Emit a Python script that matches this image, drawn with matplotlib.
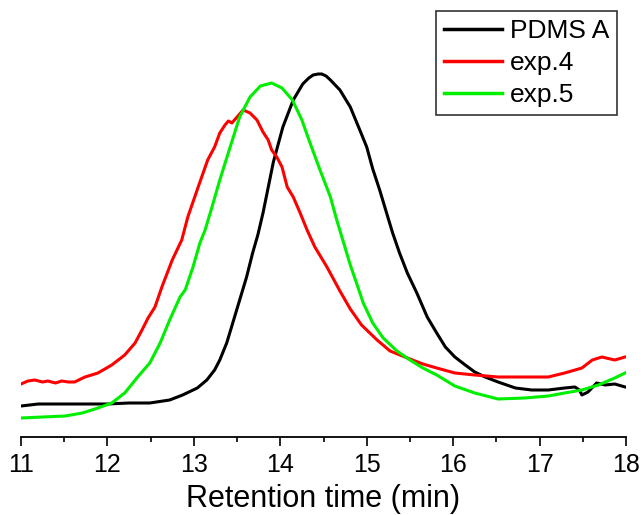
import matplotlib
matplotlib.use("Agg")
import matplotlib.pyplot as plt
from matplotlib.ticker import MultipleLocator

plt.rcParams['font.family'] = ['Liberation Sans', 'DejaVu Sans']

# ---- data (retention time in min, detector signal in arbitrary units) ----
t_pdms = [11.00, 11.20, 11.50, 11.80, 12.00, 12.25, 12.49, 12.72, 12.87, 13.04, 13.15, 13.24,
          13.30, 13.38, 13.45, 13.53, 13.61, 13.68, 13.74, 13.80, 13.92, 14.03, 14.15,
          14.26, 14.33, 14.38, 14.44, 14.48, 14.53, 14.58, 14.69, 14.81, 14.92, 15.00, 15.07, 15.15,
          15.23, 15.30, 15.38, 15.47, 15.58, 15.70, 15.81, 15.91, 16.02, 16.14, 16.25,
          16.37, 16.52, 16.72, 16.91, 17.10, 17.29, 17.41, 17.46, 17.49, 17.56, 17.66,
          17.76, 17.87, 17.99]
y_pdms = [31, 33, 33, 33, 33, 34, 34, 37, 42, 49, 57, 67,
          77, 94, 114, 137, 160, 184, 202, 224, 275, 310, 337,
          353, 359, 362, 363, 363, 361, 357, 347, 330, 307, 290, 268, 247,
          224, 204, 184, 164, 144, 120, 104, 90, 80, 72, 65,
          60, 55, 49, 47, 47, 49, 50, 47, 42, 45, 54,
          52, 53, 50]

t_exp4 = [11.00, 11.08, 11.16, 11.25, 11.31, 11.40, 11.47, 11.55, 11.62, 11.74, 11.89, 12.05,
          12.20, 12.32, 12.40, 12.47, 12.55, 12.63, 12.75, 12.86, 12.93, 13.05, 13.16,
          13.24, 13.30, 13.36, 13.40, 13.44, 13.50, 13.57, 13.65, 13.73, 13.80, 13.86,
          13.90, 13.96, 14.02, 14.08, 14.15, 14.23, 14.31, 14.40, 14.54, 14.69, 14.81,
          14.94, 15.12, 15.27, 15.47, 15.65, 15.81, 16.02, 16.25, 16.52, 16.83, 17.10,
          17.29, 17.49, 17.61, 17.72, 17.87, 17.99]
y_exp4 = [53, 56, 57, 55, 56, 54, 56, 55, 55, 60, 64, 72,
          82, 94, 107, 119, 130, 150, 177, 197, 220, 250, 277,
          290, 304, 312, 316, 314, 320, 327, 324, 317, 305, 297,
          287, 280, 270, 250, 240, 224, 207, 190, 170, 146, 128,
          112, 97, 86, 79, 73, 69, 64, 62, 60, 60, 60,
          64, 69, 77, 80, 77, 80]

t_exp5 = [11.00, 11.51, 11.71, 11.89, 12.05, 12.20, 12.35, 12.49, 12.61, 12.72, 12.84, 12.90,
          12.99, 13.07, 13.13, 13.21, 13.30, 13.42, 13.53, 13.65, 13.77, 13.90, 14.02,
          14.14, 14.25, 14.34, 14.46, 14.58, 14.65, 14.73, 14.81, 14.89, 14.96, 15.07,
          15.19, 15.35, 15.50, 15.65, 15.81, 16.02, 16.25, 16.52, 16.83, 17.10, 17.29,
          17.49, 17.68, 17.87, 17.99]
y_exp5 = [19, 21, 24, 29, 34, 44, 60, 74, 94, 117, 140, 147,
          170, 194, 207, 230, 257, 290, 320, 340, 351, 354, 349,
          337, 317, 295, 267, 240, 218, 195, 172, 152, 134, 114,
          99, 86, 77, 69, 62, 51, 44, 38, 39, 41, 44,
          47, 52, 59, 64]

series_labels = ["PDMS A", "exp.4", "exp.5"]
series_colors = ["#000000", "#ff0000", "#00ee00"]
x_ticks = [11, 12, 13, 14, 15, 16, 17, 18]
x_label = "Retention time (min)"

# ---- figure ----
fig = plt.figure(figsize=(6.41, 5.15), dpi=100)
ax = fig.add_axes([21 / 641, (515 - 437) / 515, (626 - 21) / 641, 437 / 515])

for tx, ty, lab, col in zip([t_pdms, t_exp4, t_exp5], [y_pdms, y_exp4, y_exp5],
                            series_labels, series_colors):
    ax.plot(tx, ty, color=col, lw=2.2, label=lab, solid_joinstyle="round")

ax.set_xlim(11, 18)
ax.set_ylim(0, 437)
ax.set_xticks(x_ticks)
ax.set_xticklabels([str(v) for v in x_ticks])
ax.xaxis.set_minor_locator(MultipleLocator(0.5))
ax.set_yticks([])
for s in ["left", "top", "right"]:
    ax.spines[s].set_visible(False)
ax.spines["bottom"].set_linewidth(1.3)
ax.tick_params(axis="x", which="major", direction="out", length=6.5, width=1.2,
               labelsize=18, pad=5)
ax.tick_params(axis="x", which="minor", direction="out", length=3.5, width=1.2)
ax.set_xlabel(x_label, fontsize=22, labelpad=5)

leg = ax.legend(loc="upper right", bbox_to_anchor=(617 / 641, 1 - 11 / 515),
                bbox_transform=fig.transFigure, frameon=True, fancybox=False,
                edgecolor="black", fontsize=19, handlelength=2.2, handletextpad=0.3,
                labelspacing=0.3, borderpad=0.3, borderaxespad=0)
leg.get_frame().set_linewidth(1.2)
for line in leg.get_lines():
    line.set_linewidth(2.5)

fig.savefig("out.png", dpi=100)
